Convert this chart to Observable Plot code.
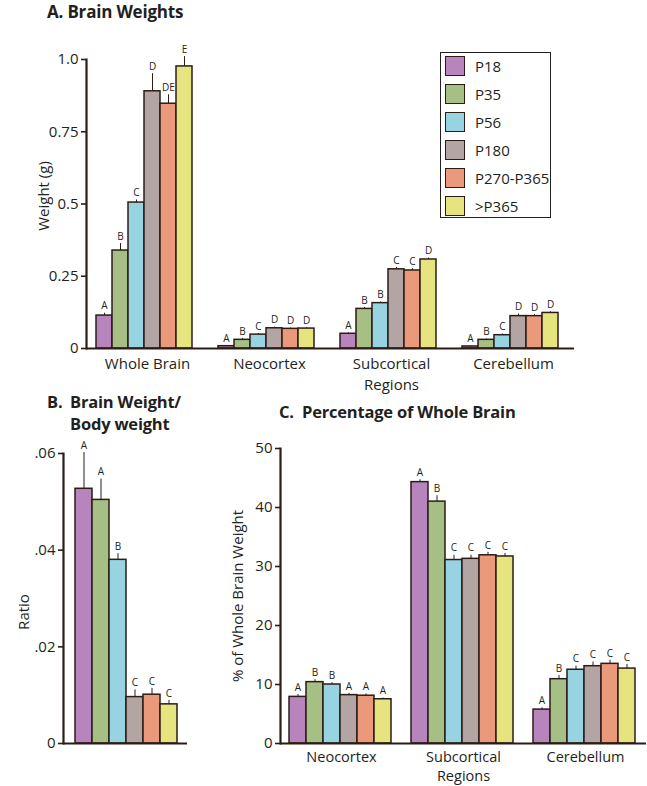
<!DOCTYPE html>
<html><head><meta charset="utf-8">
<script src="https://cdn.jsdelivr.net/npm/d3@7"></script>
<script src="https://cdn.jsdelivr.net/npm/@observablehq/plot@0.6"></script>
<style>
body{margin:0;background:#fff;}
#root{position:relative;width:647px;height:786px;font-family:"Open Sans",sans-serif;color:#231f20;overflow:hidden;background:#fff;}
#root svg{position:absolute;overflow:visible;}
.title{position:absolute;font-weight:700;font-size:17px;line-height:1;white-space:nowrap;letter-spacing:-0.2px;}
.ylab{position:absolute;font-size:15px;line-height:1;white-space:nowrap;transform:translate(-50%,-50%) rotate(-90deg);}
.legend{position:absolute;left:440px;top:52px;width:109px;height:164px;border:1.3px solid #231f20;background:#fff;}
.legend .row{position:absolute;left:4px;height:20px;display:flex;align-items:center;}
.legend .sw{width:18px;height:18px;border:1.3px solid #2b1d16;margin-right:10px;}
.legend .lb{font-size:15px;line-height:1;}
</style></head><body><div id="root"></div>
<script>
// ---- data ----
const ages = ["P18", "P35", "P56", "P180", "P270-P365", ">P365"];
const ageColors = ["#b784bd", "#a6bf84", "#98d3e2", "#b3a5a4", "#ea9a7a", "#e6e47f"];

// Panel A: brain weights (g)
const regionsA = ["Whole Brain", "Neocortex", "Subcortical Regions", "Cerebellum"];
const regionLabelsA = ["Whole Brain", "Neocortex", "Subcortical\nRegions", "Cerebellum"];
const weightWhole = [0.114, 0.339, 0.505, 0.890, 0.847, 0.976];
const weightWholeErr = [0.008, 0.024, 0.009, 0.061, 0.031, 0.034];
const weightWholeSig = ["A", "B", "C", "D", "DE", "E"];
const weightNeo = [0.008, 0.030, 0.048, 0.070, 0.068, 0.069];
const weightNeoErr = [0.002, 0.004, 0.004, 0.004, 0.003, 0.003];
const weightNeoSig = ["A", "B", "C", "D", "D", "D"];
const weightSub = [0.051, 0.137, 0.157, 0.274, 0.270, 0.308];
const weightSubErr = [0.003, 0.005, 0.004, 0.006, 0.006, 0.005];
const weightSubSig = ["A", "B", "B", "C", "C", "D"];
const weightCer = [0.007, 0.030, 0.046, 0.112, 0.112, 0.123];
const weightCerErr = [0.002, 0.003, 0.004, 0.007, 0.005, 0.004];
const weightCerSig = ["A", "B", "C", "D", "D", "D"];
const weightTicks = [0, 0.25, 0.5, 0.75, 1];
const weightTickLabels = ["0", "0.25", "0.5", "0.75", "1.0"];

// Panel B: brain weight / body weight
const ratio = [0.0527, 0.0504, 0.0380, 0.0096, 0.0101, 0.0081];
const ratioErr = [0.0075, 0.0043, 0.0013, 0.0015, 0.0013, 0.0008];
const ratioSig = ["A", "A", "B", "C", "C", "C"];
const ratioTicks = [0, 0.02, 0.04, 0.06];
const ratioTickLabels = ["0", ".02", ".04", ".06"];

// Panel C: percentage of whole brain
const regionsC = ["Neocortex", "Subcortical Regions", "Cerebellum"];
const regionLabelsC = ["Neocortex", "Subcortical\nRegions", "Cerebellum"];
const pctNeo = [7.9, 10.4, 10.0, 8.2, 8.1, 7.5];
const pctNeoErr = [0.4, 0.4, 0.3, 0.3, 0.3, 0.2];
const pctNeoSig = ["A", "B", "B", "A", "A", "A"];
const pctSub = [44.3, 41.0, 31.1, 31.3, 31.9, 31.7];
const pctSubErr = [0.4, 1.0, 0.8, 0.6, 0.5, 0.5];
const pctSubSig = ["A", "B", "C", "C", "C", "C"];
const pctCer = [5.75, 10.9, 12.5, 13.1, 13.5, 12.7];
const pctCerErr = [0.3, 0.6, 0.6, 0.7, 0.6, 0.7];
const pctCerSig = ["A", "B", "C", "C", "C", "C"];
const pctTicks = [0, 10, 20, 30, 40, 50];
const pctTickLabels = ["0", "10", "20", "30", "40", "50"];

// ---- build tables ----
const INK = "#231f20";
const OUT = "#2b1d16";
function rows(regions, vals, errs, sigs) {
  return regions.flatMap((r, i) => ages.map((a, j) => ({region: r, age: a, value: vals[i][j], err: errs[i][j], sig: sigs[i][j]})));
}
const dataA = rows(regionsA, [weightWhole, weightNeo, weightSub, weightCer], [weightWholeErr, weightNeoErr, weightSubErr, weightCerErr], [weightWholeSig, weightNeoSig, weightSubSig, weightCerSig]);
const dataB = rows(["all"], [ratio], [ratioErr], [ratioSig]);
const dataC = rows(regionsC, [pctNeo, pctSub, pctCer], [pctNeoErr, pctSubErr, pctCerErr], [pctNeoSig, pctSubSig, pctCerSig]);

function panel(o) {
  const faceted = !!o.regions;
  const fxo = faceted ? {fx: "region"} : {};
  const fmt = new Map(o.ticks.map((t, i) => [t, o.tickLabels[i]]));
  const marks = [
    Plot.barY(o.data, {...fxo, x: "age", y: "value", fill: "age", stroke: OUT, strokeWidth: 1.5}),
    Plot.ruleX(o.data, {...fxo, x: "age", y1: "value", y2: d => d.value + d.err, stroke: OUT, strokeWidth: 1}),
    Plot.text(o.data, {...fxo, x: "age", y: d => d.value + d.err, text: "sig", dy: -7, fontSize: 10, fill: INK}),
    Plot.ruleY([0], {stroke: OUT, strokeWidth: 2.2}),
    Plot.frame({anchor: "left", facetAnchor: "left", stroke: OUT, strokeWidth: 2.2}),
    Plot.axisY({ticks: o.ticks, tickFormat: d => fmt.get(d), tickSize: 5, tickPadding: 3, strokeWidth: 1.6, stroke: OUT, fontSize: o.tickFont, label: null, anchor: "left"})
  ];
  if (faceted) {
    const fw = (o.width - o.ml - o.mr) / o.regions.length;
    const labelRows = o.regions.map((r, i) => ({region: r, label: o.labels[i]}));
    marks.push(Plot.text(labelRows, {fx: "region", text: "label", frameAnchor: "bottom", lineAnchor: "top", dy: o.labelDy, fontSize: o.labelFont, lineHeight: o.labelLH, fill: INK}));
    marks.push(Plot.ruleX(labelRows, {fx: "region", y1: 0, y2: 0, insetBottom: -5, dx: -fw / 2, stroke: OUT, strokeWidth: 1.6}));
    marks.push(Plot.ruleX(labelRows.slice(-1), {fx: "region", y1: 0, y2: 0, insetBottom: -5, dx: fw / 2, stroke: OUT, strokeWidth: 1.6}));
  }
  const svg = Plot.plot({
    width: o.width, height: o.height,
    marginTop: o.mt, marginBottom: o.mb, marginLeft: o.ml, marginRight: o.mr,
    x: {domain: ages, paddingInner: 0, paddingOuter: o.po, align: o.align, axis: null},
    ...(faceted ? {fx: {domain: o.regions, paddingInner: 0, paddingOuter: 0, axis: null}} : {}),
    y: {domain: o.yDomain},
    color: {domain: ages, range: ageColors},
    style: {fontFamily: "'Open Sans', sans-serif", fontSize: "15px", color: INK, background: "transparent", overflow: "visible"},
    marks
  });
  svg.style.left = o.left + "px";
  svg.style.top = o.top + "px";
  return svg;
}

const root = document.getElementById("root");
root.appendChild(panel({data: dataA, regions: regionsA, labels: regionLabelsA, yDomain: [0, 1], ticks: weightTicks, tickLabels: weightTickLabels, tickFont: 15,
  left: 0, top: 0, width: 647, height: 395, mt: 59, mb: 47, ml: 85, mr: 73, po: 0.64, align: 0.4, labelDy: 6, labelLH: 1.37, labelFont: 15}));
root.appendChild(panel({data: dataB, yDomain: [0, 0.06], ticks: ratioTicks, tickLabels: ratioTickLabels, tickFont: 15,
  left: 0, top: 430, width: 200, height: 340, mt: 23, mb: 27, ml: 63, mr: 13, po: 0.647, align: 0.545}));
root.appendChild(panel({data: dataC, regions: regionsC, labels: regionLabelsC, yDomain: [0, 50], ticks: pctTicks, tickLabels: pctTickLabels, tickFont: 15,
  left: 220, top: 430, width: 427, height: 356, mt: 18, mb: 43, ml: 59, mr: 1, po: 0.555, align: 0.47, labelDy: 4, labelLH: 1.37, labelFont: 14.5}));

// ---- titles & axis labels ----
function addDiv(cls, text, style) {
  const d = document.createElement("div");
  d.className = cls; d.textContent = text;
  Object.assign(d.style, style);
  root.appendChild(d);
  return d;
}
addDiv("title", "A. Brain Weights", {left: "47px", top: "3px"});
addDiv("title", "B.", {left: "47px", top: "394px", fontSize: "16.5px"});
addDiv("title", "Brain Weight/", {left: "70px", top: "394px", fontSize: "16.5px"});
addDiv("title", "Body weight", {left: "70px", top: "416px", fontSize: "16.5px"});
addDiv("title", "C.", {left: "279px", top: "404px", fontSize: "16.5px"});
addDiv("title", "Percentage of Whole Brain", {left: "302px", top: "404px", fontSize: "16.5px"});
addDiv("ylab", "Weight (g)", {left: "43px", top: "196px"});
addDiv("ylab", "Ratio", {left: "23px", top: "612px"});
addDiv("ylab", "% of Whole Brain Weight", {left: "237px", top: "596px"});

// ---- legend ----
const legend = document.createElement("div");
legend.className = "legend";
ages.forEach((a, i) => {
  const row = document.createElement("div");
  row.className = "row";
  row.style.top = (3 + 28 * i) + "px";
  const sw = document.createElement("div");
  sw.className = "sw"; sw.style.background = ageColors[i];
  const lb = document.createElement("div");
  lb.className = "lb"; lb.textContent = a;
  row.appendChild(sw); row.appendChild(lb);
  legend.appendChild(row);
});
root.appendChild(legend);
</script>
</body></html>
